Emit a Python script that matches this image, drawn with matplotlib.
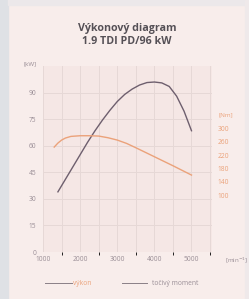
import numpy as np
import matplotlib
matplotlib.use('Agg')
import matplotlib.pyplot as plt
from matplotlib.lines import Line2D

plt.rcParams['font.family'] = ['Open Sans', 'DejaVu Sans']

# power curve (dark line), kW
power_rpm = [1400, 1600, 1800, 2000, 2200, 2400, 2600, 2800, 3000, 3200,
             3400, 3600, 3800, 4000, 4200, 4400, 4600, 4800, 5000]
power_kw = [34, 41, 48, 55, 62, 68.5, 74.5, 80, 85, 89,
            92, 94.3, 95.7, 96, 95.5, 93.5, 88, 79.5, 68.5]

# torque curve (orange line), Nm
torque_rpm = [1300, 1400, 1500, 1600, 1750, 2000, 2250, 2500, 2750, 3000,
              3250, 3500, 4000, 4500, 5000]
torque_nm = [244, 256, 265, 271, 276, 278, 278, 277, 272, 265,
             255, 242, 215, 188, 160]

kw_ticks = [0, 15, 30, 45, 60, 75, 90]
nm_ticks = [100, 140, 180, 220, 260, 300]
rpm_ticks = [1000, 2000, 3000, 4000, 5000]

page = '#f8edeb'
face = '#f5e7e5'
gridc = '#e6d8d6'
dark = '#6e5f6e'
orange = '#eba27a'
txt = '#9a8e96'

fig = plt.figure(figsize=(2.49, 2.99), dpi=100)
fig.patch.set_facecolor(page)
# edges of the photographed page
fig.add_artist(plt.Rectangle((0, 0), 0.032, 1, transform=fig.transFigure,
                             color='#dfe1e5', zorder=0))
fig.add_artist(plt.Rectangle((0.032, 0.983), 1, 0.02, transform=fig.transFigure,
                             color='#ece8ea', zorder=0))
fig.add_artist(plt.Rectangle((0.984, 0), 0.02, 1, transform=fig.transFigure,
                             color='#efe9ea', zorder=0))

ax = fig.add_axes([0.173, 0.157, 0.678, 0.622])
ax.set_facecolor(face)
ax.set_xlim(1000, 5550)
ax.set_ylim(0, 105)
ax.set_xticks(np.arange(1000, 5501, 500), minor=True)
ax.set_xticks(rpm_ticks)
ax.set_yticks(kw_ticks)
ax.grid(True, which='both', color=gridc, lw=0.7)
ax.set_axisbelow(True)
for s in ax.spines.values():
    s.set_visible(False)
ax.tick_params(length=0, labelsize=4.8, colors=txt, pad=5)
ax.tick_params(axis='x', pad=3)

ax.plot(power_rpm, power_kw, color=dark, lw=1.0)

ax2 = ax.twinx()
ax2.set_ylim(-71, 487)
ax2.set_yticks(nm_ticks)
for s in ax2.spines.values():
    s.set_visible(False)
ax2.tick_params(length=0, labelsize=4.8, colors=orange, pad=4)
ax2.plot(torque_rpm, torque_nm, color=orange, lw=1.0)

fig.text(0.12, 0.786, '[kW]', fontsize=4.5, color=txt, ha='center', va='center')
fig.text(0.905, 0.615, '[Nm]', fontsize=4.5, color=orange, ha='center', va='center')
fig.text(0.95, 0.13, '[min$^{-1}$]', fontsize=4.5, color=txt, ha='center', va='center')

fig.text(0.51, 0.905, 'Výkonový diagram', fontsize=7.7, fontweight='bold',
         color='#555056', ha='center', va='center')
fig.text(0.51, 0.86, '1.9 TDI PD/96 kW', fontsize=7.7, fontweight='bold',
         color='#555056', ha='center', va='center')

# legend
fig.add_artist(Line2D([0.18, 0.29], [0.053, 0.053], color='#8a7f86', lw=0.7))
fig.text(0.295, 0.053, 'výkon', fontsize=4.8, color=orange, va='center')
fig.add_artist(Line2D([0.49, 0.59], [0.053, 0.053], color='#8a7f86', lw=0.7))
fig.text(0.61, 0.053, 'točivý moment', fontsize=4.8, color=txt, va='center')

fig.savefig('out.png', dpi=100, facecolor=page)
